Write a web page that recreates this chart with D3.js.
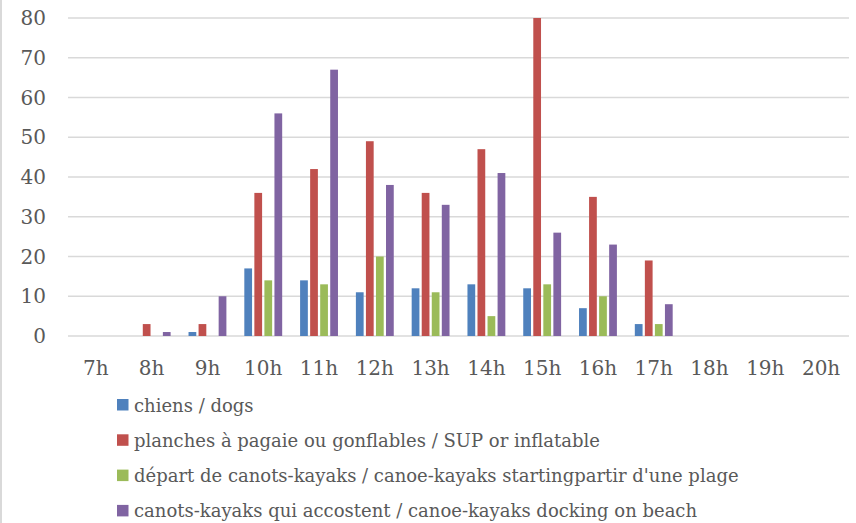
<!DOCTYPE html>
<html>
<head>
<meta charset="utf-8">
<script src="https://cdn.jsdelivr.net/npm/d3@7"></script>
<style>
  body { margin: 0; background: #fff; }
  svg { display: block; }
</style>
</head>
<body>
<svg width="856" height="523"></svg>
<script>
// hours on the x axis
const hours = ["7h","8h","9h","10h","11h","12h","13h","14h","15h","16h","17h","18h","19h","20h"];
const seriesNames = [
  "chiens / dogs",
  "planches à pagaie ou gonflables / SUP or inflatable",
  "départ de canots-kayaks / canoe-kayaks startingpartir d'une plage",
  "canots-kayaks qui accostent / canoe-kayaks docking on beach"
];
const dogs     = [0, 0, 1, 17, 14, 11, 12, 13, 12,  7,  3, 0, 0, 0];
const sup      = [0, 3, 3, 36, 42, 49, 36, 47, 80, 35, 19, 0, 0, 0];
const starting = [0, 0, 0, 14, 13, 20, 11,  5, 13, 10,  3, 0, 0, 0];
const docking  = [0, 1, 10, 56, 67, 38, 33, 41, 26, 23,  8, 0, 0, 0];
const yTicks = [0, 10, 20, 30, 40, 50, 60, 70, 80];
const colors = ["#4F81BD", "#C0504D", "#9BBB59", "#8064A2"];

const allSeries = [dogs, sup, starting, docking];
const font = "DejaVu Serif, Liberation Serif, serif";

const svg = d3.select("svg");
const margin = {top: 18, left: 68, right: 7};
const plotBottom = 336;
const width = +svg.attr("width") - margin.left - margin.right;

// thin grey frame line on the left edge
svg.append("rect").attr("x", 0).attr("y", 0).attr("width", 2).attr("height", 523).attr("fill", "#d9d9d9");

const x0 = d3.scaleBand().domain(hours).range([margin.left, margin.left + width])
    .paddingInner(0.28).paddingOuter(0.14);
const x1 = d3.scaleBand().domain(d3.range(4)).range([0, x0.bandwidth()]);
const y = d3.scaleLinear().domain([0, 80]).range([plotBottom, margin.top]);

// gridlines
svg.append("g").selectAll("line")
    .data(yTicks)
    .enter().append("line")
    .attr("x1", margin.left).attr("x2", margin.left + width)
    .attr("y1", d => y(d)).attr("y2", d => y(d))
    .attr("stroke", "#d9d9d9").attr("stroke-width", 1.5);

// y labels
svg.append("g").selectAll("text")
    .data(yTicks)
    .enter().append("text")
    .attr("x", 46).attr("y", d => y(d))
    .attr("dy", "0.36em")
    .attr("text-anchor", "end")
    .attr("font-family", font).attr("font-size", 20).attr("fill", "#595959")
    .text(d => d);

// x labels
svg.append("g").selectAll("text")
    .data(hours)
    .enter().append("text")
    .attr("x", d => x0(d) + x0.bandwidth() / 2)
    .attr("y", 375)
    .attr("text-anchor", "middle")
    .attr("font-family", font).attr("font-size", 20).attr("fill", "#595959")
    .text(d => d);

// bars
const inset = 1.15;
const groups = svg.append("g").selectAll("g")
    .data(allSeries)
    .enter().append("g")
    .attr("fill", (d, i) => colors[i]);

groups.each(function(vals, si) {
  d3.select(this).selectAll("rect")
      .data(vals.map((v, i) => ({hour: hours[i], value: v})).filter(d => d.value > 0))
      .enter().append("rect")
      .attr("x", d => x0(d.hour) + x1(si) + inset)
      .attr("width", x1.bandwidth() - inset * 2)
      .attr("y", d => y(d.value))
      .attr("height", d => y(0) - y(d.value));
});

// legend
const legend = svg.append("g").selectAll("g")
    .data(seriesNames)
    .enter().append("g")
    .attr("transform", (d, i) => "translate(117," + (411.5 + i * 35.3) + ")");

legend.append("rect")
    .attr("x", 0).attr("y", -12.5)
    .attr("width", 11.5).attr("height", 11.5)
    .attr("fill", (d, i) => colors[i]);

legend.append("text")
    .attr("x", 17).attr("y", 0)
    .attr("font-family", font).attr("font-size", 18).attr("fill", "#595959")
    .text(d => d);
</script>
</body>
</html>
